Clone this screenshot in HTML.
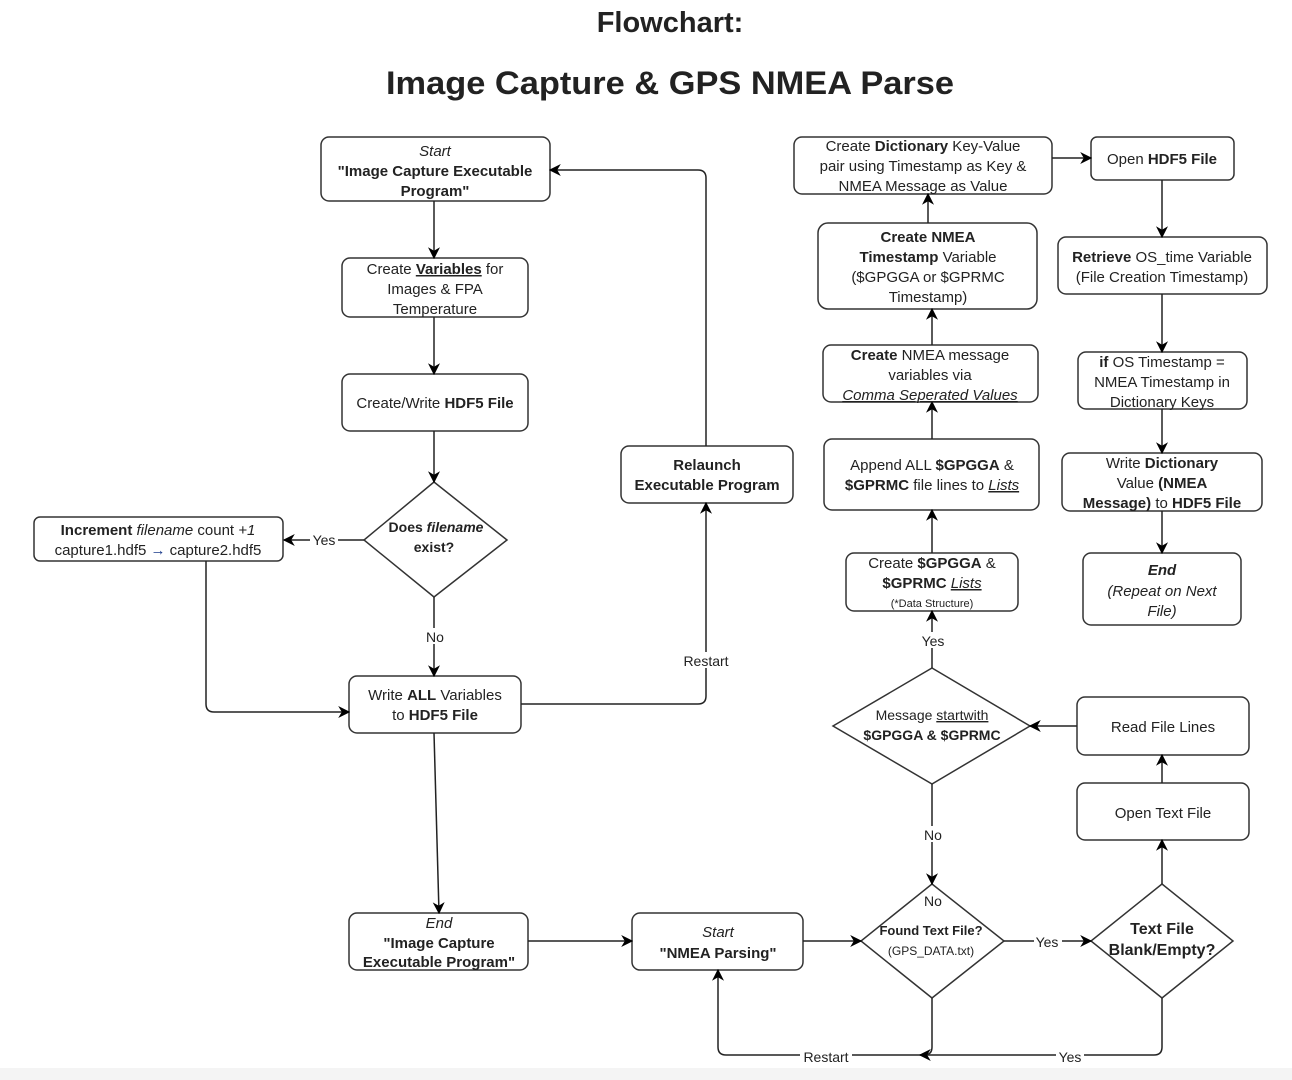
<!DOCTYPE html>
<html><head><meta charset="utf-8"><style>
html,body{margin:0;padding:0;background:#fff}
svg{display:block;font-family:"Liberation Sans",Arial,sans-serif}
text{fill:#222;font-size:15px}
.b{font-weight:bold}
.i{font-style:italic}
.u{text-decoration:underline}
.lbl{font-size:14px}
</style></head><body>
<svg width="1292" height="1080" viewBox="0 0 1292 1080" xmlns="http://www.w3.org/2000/svg">
<defs><marker id="a" viewBox="0 0 10 10" refX="9" refY="5" markerWidth="8" markerHeight="8" orient="auto-start-reverse"><path d="M0,0 L10,5 L0,10 L3,5 z" fill="#000"/></marker></defs>
<rect x="0" y="1068" width="1292" height="12" fill="#f4f4f4"/>
<text x="670" y="32" text-anchor="middle" class="b" style="font-size:29px" fill="#000">Flowchart:</text>
<text x="670" y="94" text-anchor="middle" class="b" style="font-size:32px" textLength="568" lengthAdjust="spacingAndGlyphs">Image Capture &amp; GPS NMEA Parse</text>

<g fill="#fff" stroke="#333" stroke-width="1.5">
<rect x="321" y="137" width="229" height="64" rx="8"/>
<rect x="342" y="258" width="186" height="59" rx="8"/>
<rect x="342" y="374" width="186" height="57" rx="8"/>
<polygon points="434,482 507,540 434,597 364,540"/>
<rect x="34" y="517" width="249" height="44" rx="6"/>
<rect x="349" y="676" width="172" height="57" rx="8"/>
<rect x="621" y="446" width="172" height="57" rx="8"/>
<rect x="349" y="913" width="179" height="57" rx="8"/>
<rect x="632" y="913" width="171" height="57" rx="8"/>
<polygon points="932,884 1004,941 932,998 861,941"/>
<polygon points="1162,884 1233,941 1162,998 1091,941"/>
<rect x="1077" y="783" width="172" height="57" rx="8"/>
<rect x="1077" y="697" width="172" height="58" rx="8"/>
<polygon points="932,668 1030,726 932,784 833,726"/>
<rect x="846" y="553" width="172" height="58" rx="8"/>
<rect x="824" y="439" width="215" height="71" rx="8"/>
<rect x="823" y="345" width="215" height="57" rx="8"/>
<rect x="818" y="223" width="219" height="86" rx="10"/>
<rect x="794" y="137" width="258" height="57" rx="8"/>
<rect x="1091" y="137" width="143" height="43" rx="6"/>
<rect x="1058" y="237" width="209" height="57" rx="8"/>
<rect x="1078" y="352" width="169" height="57" rx="8"/>
<rect x="1062" y="453" width="200" height="58" rx="8"/>
<rect x="1083" y="553" width="158" height="72" rx="8"/>
</g>

<g fill="none" stroke="#222" stroke-width="1.5" marker-end="url(#a)">
<path d="M434,201 V258"/>
<path d="M434,317 V374"/>
<path d="M434,431 V482"/>
<path d="M364,540 H284"/>
<path d="M434,597 V676"/>
<path d="M206,561 V704 Q206,712 214,712 H349"/>
<path d="M521,704 H698 Q706,704 706,696 V503"/>
<path d="M706,446 V178 Q706,170 698,170 H550"/>
<path d="M434,733 L439,913"/>
<path d="M528,941 H632"/>
<path d="M803,941 H861"/>
<path d="M1004,941 H1091"/>
<path d="M1162,884 V840"/>
<path d="M1162,783 V755"/>
<path d="M1077,726 H1030"/>
<path d="M932,784 V884"/>
<path d="M932,668 V611"/>
<path d="M932,553 V510"/>
<path d="M932,439 V402"/>
<path d="M932,345 V309"/>
<path d="M928,223 V194"/>
<path d="M1052,158 H1091"/>
<path d="M1162,180 V237"/>
<path d="M1162,294 V352"/>
<path d="M1162,409 V453"/>
<path d="M1162,511 V553"/>
<path d="M932,998 V1047 Q932,1055 924,1055 H726 Q718,1055 718,1047 V970"/>
<path d="M1162,998 V1047 Q1162,1055 1154,1055 H920"/>
</g>

<g text-anchor="middle">
<rect x="310" y="531" width="28" height="16" fill="#fff"/><text x="324" y="545" class="lbl">Yes</text>
<rect x="420" y="628" width="30" height="16" fill="#fff"/><text x="435" y="642" class="lbl">No</text>
<rect x="680" y="652" width="54" height="16" fill="#fff"/><text x="706" y="666" class="lbl">Restart</text>
<rect x="918" y="632" width="30" height="16" fill="#fff"/><text x="933" y="646" class="lbl">Yes</text>
<rect x="918" y="826" width="30" height="16" fill="#fff"/><text x="933" y="840" class="lbl">No</text>
<text x="933" y="906" class="lbl">No</text>
<rect x="1034" y="933" width="28" height="16" fill="#fff"/><text x="1047" y="947" class="lbl">Yes</text>
<rect x="800" y="1048" width="52" height="16" fill="#fff"/><text x="826" y="1062" class="lbl">Restart</text>
<rect x="1056" y="1048" width="28" height="16" fill="#fff"/><text x="1070" y="1062" class="lbl">Yes</text>

<text x="435" y="156" class="i">Start</text>
<text x="435" y="176" class="b">"Image Capture Executable</text>
<text x="435" y="196" class="b">Program"</text>

<text x="435" y="274">Create <tspan class="b u">Variables</tspan> for</text>
<text x="435" y="294">Images &amp; FPA</text>
<text x="435" y="314">Temperature</text>

<text x="435" y="408">Create/Write <tspan class="b">HDF5 File</tspan></text>

<text x="436" y="532" class="b" style="font-size:14px">Does <tspan class="i">filename</tspan></text>
<text x="434" y="552" class="b" style="font-size:14px">exist?</text>

<text x="158" y="535"><tspan class="b">Increment</tspan> <tspan class="i">filename</tspan> count <tspan class="i">+1</tspan></text>
<text x="158" y="555">capture1.hdf5 <tspan fill="#1a3a8a">→</tspan> capture2.hdf5</text>

<text x="435" y="700">Write <tspan class="b">ALL</tspan> Variables</text>
<text x="435" y="720">to <tspan class="b">HDF5 File</tspan></text>

<text x="707" y="470" class="b">Relaunch</text>
<text x="707" y="490" class="b">Executable Program</text>

<text x="439" y="928" class="i">End</text>
<text x="439" y="948" class="b">"Image Capture</text>
<text x="439" y="967" class="b">Executable Program"</text>

<text x="718" y="937" class="i">Start</text>
<text x="718" y="958" class="b">"NMEA Parsing"</text>

<text x="931" y="935" class="b" style="font-size:13px">Found Text File?</text>
<text x="931" y="955" style="font-size:12px">(GPS_DATA.txt)</text>

<text x="1162" y="934" class="b" style="font-size:16px">Text File</text>
<text x="1162" y="955" class="b" style="font-size:16px">Blank/Empty?</text>

<text x="1163" y="818">Open Text File</text>
<text x="1163" y="732">Read File Lines</text>

<text x="932" y="720" style="font-size:14px">Message <tspan class="u">startwith</tspan></text>
<text x="932" y="740" class="b" style="font-size:14px">$GPGGA &amp; $GPRMC</text>

<text x="932" y="568">Create <tspan class="b">$GPGGA</tspan> &amp;</text>
<text x="932" y="588"><tspan class="b">$GPRMC</tspan> <tspan class="i u">Lists</tspan></text>
<text x="932" y="607" style="font-size:11px">(*Data Structure)</text>

<text x="932" y="470">Append ALL <tspan class="b">$GPGGA</tspan> &amp;</text>
<text x="932" y="490"><tspan class="b">$GPRMC</tspan> file lines to <tspan class="i u">Lists</tspan></text>

<text x="930" y="360"><tspan class="b">Create</tspan> NMEA message</text>
<text x="930" y="380">variables via</text>
<text x="930" y="400" class="i u">Comma Seperated Values</text>

<text x="928" y="242" class="b">Create NMEA</text>
<text x="928" y="262"><tspan class="b">Timestamp</tspan> Variable</text>
<text x="928" y="282">($GPGGA or $GPRMC</text>
<text x="928" y="302">Timestamp)</text>

<text x="923" y="151">Create <tspan class="b">Dictionary</tspan> Key-Value</text>
<text x="923" y="171">pair using Timestamp as Key &amp;</text>
<text x="923" y="191">NMEA Message as Value</text>

<text x="1162" y="164">Open <tspan class="b">HDF5 File</tspan></text>

<text x="1162" y="262"><tspan class="b">Retrieve</tspan> OS_time Variable</text>
<text x="1162" y="282">(File Creation Timestamp)</text>

<text x="1162" y="367"><tspan class="b">if</tspan> OS Timestamp =</text>
<text x="1162" y="387">NMEA Timestamp in</text>
<text x="1162" y="407">Dictionary Keys</text>

<text x="1162" y="468">Write <tspan class="b">Dictionary</tspan></text>
<text x="1162" y="488">Value <tspan class="b">(NMEA</tspan></text>
<text x="1162" y="508"><tspan class="b">Message)</tspan> to <tspan class="b">HDF5 File</tspan></text>

<text x="1162" y="575" class="b i">End</text>
<text x="1162" y="596" class="i">(Repeat on Next</text>
<text x="1162" y="616" class="i">File)</text>
</g>
</svg>
</body></html>
